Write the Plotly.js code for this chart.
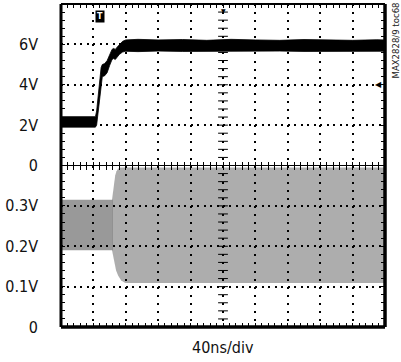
<!DOCTYPE html>
<html>
<head>
<meta charset="utf-8">
<script src="https://cdn.plot.ly/plotly-3.0.1.min.js"></script>
<style>html,body{margin:0;padding:0;background:#fff;}#chart{width:401px;height:362px;}</style>
</head>
<body>
<div id="chart"></div>
<script>
// ---- data (time in ns, 40 ns/div) ----
const xTitle = "40ns/div";
const docId = "MAX2828/9 toc68";

// Top channel (2 V/div): envelope of the thick black trace
const tTop     = [0, 42.5, 44, 46, 48, 49.5, 51, 54, 57, 60, 63, 65, 67, 69, 72, 76, 80, 95, 120, 150, 180, 210, 240, 270, 300, 330, 360, 390, 400];
const topUpper = [2.42, 2.42, 2.7, 3.5, 4.3, 4.85, 5.0, 5.05, 5.2, 5.5, 5.75, 5.8, 5.75, 5.85, 6.0, 6.15, 6.22, 6.25, 6.22, 6.24, 6.2, 6.25, 6.22, 6.2, 6.24, 6.22, 6.2, 6.23, 6.22];
const topLower = [1.9, 1.9, 2.0, 2.7, 3.5, 4.1, 4.4, 4.45, 4.6, 4.95, 5.25, 5.3, 5.25, 5.35, 5.5, 5.62, 5.66, 5.64, 5.67, 5.65, 5.66, 5.64, 5.66, 5.67, 5.65, 5.66, 5.64, 5.66, 5.66];

// Bottom channel (0.1 V/div): noise envelope before the step (dense band)
const tPre     = [0, 63.5];
const preUpper = [0.315, 0.315];
const preLower = [0.19, 0.19];

// Bottom channel: noise envelope after the step
const tPostUp    = [63, 64.4, 65.6, 66.9, 68.5, 70.5, 73, 400];
const postUpper  = [0.315, 0.34, 0.36, 0.375, 0.386, 0.392, 0.395, 0.395];
const tPostLow   = [63, 64.4, 65.6, 68, 70.6, 74.3, 79.3, 400];
const postLower  = [0.19, 0.175, 0.16, 0.14, 0.127, 0.115, 0.109, 0.109];

// Tick labels
const topTickVals = [0, 2, 4, 6];
const topTickText = ["0", "2V", "4V", "6V"];
const botTickVals = [0, 0.1, 0.2, 0.3];
const botTickText = ["0", "0.1V", "0.2V", "0.3V"];

// ---- drawing ----
const FONT = '"Liberation Sans Narrow", "DejaVu Sans Condensed", Arial, sans-serif';
const traces = [];

// bottom: post-step band (lighter speckle)
traces.push({x: tPostLow, y: postLower, xaxis: 'x', yaxis: 'y', mode: 'lines', line: {width: 0, color: 'rgba(0,0,0,0)'}, hoverinfo: 'skip'});
traces.push({x: tPostUp, y: postUpper, xaxis: 'x', yaxis: 'y', mode: 'lines', line: {width: 0, color: 'rgba(0,0,0,0)'}, fill: 'tonexty', fillcolor: 'rgba(0,0,0,0.32)', hoverinfo: 'skip'});
// bottom: pre-step band (darker)
traces.push({x: tPre, y: preLower, xaxis: 'x', yaxis: 'y', mode: 'lines', line: {width: 0, color: 'rgba(0,0,0,0)'}, hoverinfo: 'skip'});
traces.push({x: tPre, y: preUpper, xaxis: 'x', yaxis: 'y', mode: 'lines', line: {width: 0, color: 'rgba(0,0,0,0)'}, fill: 'tonexty', fillcolor: 'rgba(0,0,0,0.40)', hoverinfo: 'skip'});
// top: black thick trace
traces.push({x: tTop, y: topLower, xaxis: 'x2', yaxis: 'y2', mode: 'lines', line: {width: 0.8, color: '#000'}, hoverinfo: 'skip'});
traces.push({x: tTop, y: topUpper, xaxis: 'x2', yaxis: 'y2', mode: 'lines', line: {width: 0.8, color: '#000'}, fill: 'tonexty', fillcolor: '#000', hoverinfo: 'skip'});

// center vertical graticule ticks (every 1/5 division)
const cY1 = [], cY2 = [], cX1 = [], cX2 = [];
for (let i = 0; i <= 20; i++) { cY1.push(i * 0.02); cX1.push(200); cY2.push(i * 0.4); cX2.push(200); }
traces.push({x: cX1, y: cY1, xaxis: 'x', yaxis: 'y', mode: 'markers', marker: {symbol: 'line-ew', size: 7, line: {width: 1, color: '#000'}}, hoverinfo: 'skip', cliponaxis: false});
traces.push({x: cX2, y: cY2, xaxis: 'x2', yaxis: 'y2', mode: 'markers', marker: {symbol: 'line-ew', size: 7, line: {width: 1, color: '#000'}}, hoverinfo: 'skip', cliponaxis: false});

const xCommon = {
  range: [0, 400], dtick: 40, tick0: 0, showticklabels: false, zeroline: false,
  showgrid: true, gridcolor: '#000', gridwidth: 2, griddash: '2px,6.08px',
  ticks: 'inside', ticklen: 4, tickwidth: 1, tickcolor: '#000', mirror: 'ticks', showline: false,
  minor: {dtick: 8, ticks: 'inside', ticklen: 4, tickwidth: 1, tickcolor: '#000', showgrid: false},
  fixedrange: true
};
const yCommon = {
  zeroline: false, showgrid: true, gridcolor: '#000', gridwidth: 2, griddash: '2px,4.48px',
  ticks: 'inside', ticklen: 4, tickwidth: 1, tickcolor: '#000', mirror: 'ticks', showline: false,
  tickmode: 'array', ticklabelstandoff: 22,
  tickfont: {family: FONT, size: 16, color: '#111'},
  fixedrange: true
};

const layout = {
  width: 401, height: 362,
  margin: {l: 61, r: 16, t: 4, b: 35, pad: 0},
  paper_bgcolor: '#fff', plot_bgcolor: '#fff',
  showlegend: false,
  xaxis: Object.assign({}, xCommon, {anchor: 'y', domain: [0, 1]}),
  xaxis2: Object.assign({}, xCommon, {anchor: 'y2', domain: [0, 1], matches: 'x'}),
  yaxis: Object.assign({}, yCommon, {domain: [0, 0.5], range: [0, 0.4], tickvals: botTickVals, ticktext: botTickText,
    minor: {dtick: 0.02, tick0: 0, ticks: 'inside', ticklen: 4, tickwidth: 1, tickcolor: '#000', showgrid: false}}),
  yaxis2: Object.assign({}, yCommon, {domain: [0.5, 1], range: [0, 8], tickvals: topTickVals, ticktext: topTickText,
    minor: {dtick: 0.4, tick0: 0, ticks: 'inside', ticklen: 4, tickwidth: 1, tickcolor: '#000', showgrid: false}}),
  shapes: [
    {type: 'line', xref: 'paper', yref: 'paper', x0: 0, x1: 1, y0: 0.5, y1: 0.5, line: {color: '#000', width: 1}},
    {type: 'line', xref: 'paper', yref: 'paper', x0: 0, x1: 1, y0: 1, y1: 1, line: {color: '#000', width: 2}},
    {type: 'line', xref: 'paper', yref: 'paper', x0: 0, x1: 1, y0: 0, y1: 0, line: {color: '#000', width: 3.5}},
    {type: 'line', xref: 'paper', yref: 'paper', x0: 0, x1: 0, y0: 0, y1: 1, line: {color: '#000', width: 3}},
    {type: 'line', xref: 'paper', yref: 'paper', x0: 1, x1: 1, y0: 0, y1: 1, line: {color: '#000', width: 3.5}}
  ],
  annotations: [
    {text: xTitle, xref: 'paper', yref: 'paper', x: 0.5, y: 0, xanchor: 'center', yanchor: 'top', yshift: -9, showarrow: false,
     font: {family: FONT, size: 16, color: '#111'}},
    {text: docId, xref: 'paper', yref: 'paper', x: 1, y: 1, xanchor: 'left', yanchor: 'top', xshift: 2, yshift: 3, textangle: -90, showarrow: false,
     font: {family: FONT, size: 9.5, color: '#222'}},
    {text: '<b>T</b>', xref: 'x2', yref: 'paper', x: 48.5, y: 1, xanchor: 'center', yanchor: 'top', yshift: -6, showarrow: false,
     bgcolor: '#000', borderpad: 1, font: {family: 'DejaVu Sans', size: 8, color: '#fff'}},
    {text: '◀', xref: 'paper', yref: 'y2', x: 1, y: 4, xanchor: 'right', yanchor: 'middle', xshift: -1, showarrow: false,
     font: {family: 'DejaVu Sans', size: 8, color: '#000'}},
    {text: '▼', xref: 'x2', yref: 'paper', x: 200, y: 1, xanchor: 'center', yanchor: 'top', yshift: -1, showarrow: false,
     font: {family: 'DejaVu Sans', size: 6, color: '#000'}}
  ]
};

Plotly.newPlot('chart', traces, layout, {staticPlot: true, displayModeBar: false});
</script>
</body>
</html>
